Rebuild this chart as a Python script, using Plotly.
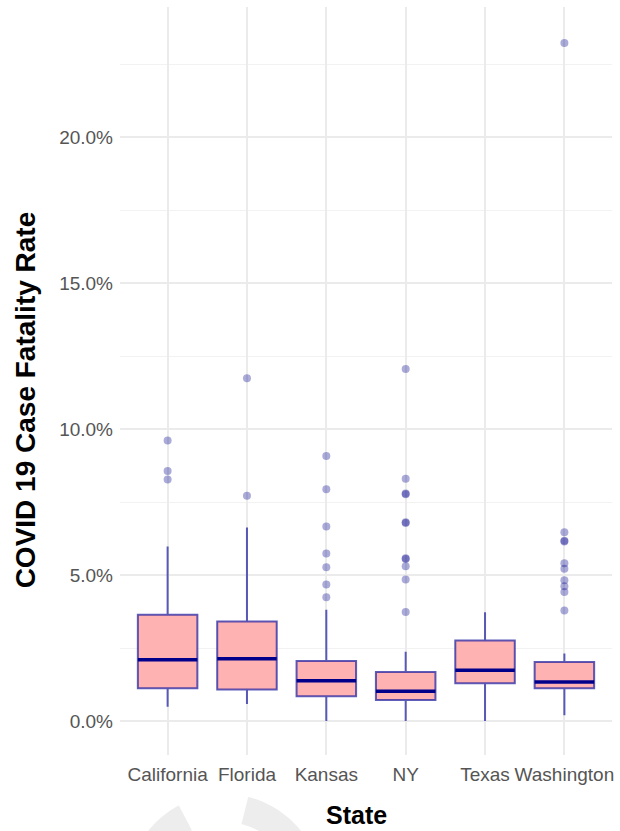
import numpy as np
import plotly.graph_objects as go

# Box-plot summary per state (case fatality rate, %)
states = ["California", "Florida", "Kansas", "NY", "Texas", "Washington"]
q1 = [1.12, 1.08, 0.85, 0.72, 1.29, 1.12]
median = [2.10, 2.13, 1.38, 1.02, 1.74, 1.34]
q3 = [3.64, 3.41, 2.06, 1.68, 2.76, 2.02]
lower_whisker = [0.49, 0.58, 0.00, 0.00, 0.00, 0.20]
upper_whisker = [5.98, 6.63, 3.81, 2.37, 3.73, 2.31]

# Outlying counties per state (%)
outliers_california = [9.61, 8.57, 8.28]
outliers_florida = [11.75, 7.72]
outliers_kansas = [9.08, 7.94, 6.67, 5.74, 5.27, 4.68, 4.24]
outliers_ny = [12.06, 8.30, 7.80, 7.77, 6.81, 6.79, 5.58, 5.55, 5.30, 4.85, 3.74]
outliers_texas = []
outliers_washington = [23.24, 6.47, 6.18, 6.15, 5.41, 5.22, 4.82, 4.62, 4.42, 3.79]
outliers = [outliers_california, outliers_florida, outliers_kansas,
            outliers_ny, outliers_texas, outliers_washington]

BOX_W = 0.75
xpos = list(range(len(states)))
pct = lambda v: [x / 100 for x in v]

# plot-area geometry in pixels, used to place titles and the ring mark
PLOT_L, PLOT_R, PLOT_T, PLOT_B = 120, 613.8, 7, 755
px_x = lambda x: (x - PLOT_L) / (PLOT_R - PLOT_L)
px_y = lambda y: (PLOT_B - y) / (PLOT_B - PLOT_T)

fig = go.Figure()

fig.add_trace(go.Box(
    x=xpos, q1=pct(q1), median=pct(median), q3=pct(q3),
    lowerfence=pct(lower_whisker), upperfence=pct(upper_whisker),
    width=BOX_W, whiskerwidth=0, boxpoints=False,
    fillcolor="#FFB2B2",
    line=dict(color="rgba(30,30,160,0.72)", width=2),
    hoverinfo="skip", showlegend=False,
))

# heavier median bars
for i, m in zip(xpos, median):
    fig.add_trace(go.Scatter(
        x=[i - BOX_W / 2, i + BOX_W / 2], y=[m / 100, m / 100],
        mode="lines", line=dict(color="#00008B", width=3.5),
        hoverinfo="skip", showlegend=False,
    ))

ox, oy = [], []
for i, pts in zip(xpos, outliers):
    ox += [i] * len(pts)
    oy += pct(pts)
fig.add_trace(go.Scatter(
    x=ox, y=oy, mode="markers",
    marker=dict(size=8, color="rgba(0,0,139,0.33)", line=dict(width=0)),
    hoverinfo="skip", showlegend=False,
))

# faint ring mark at the foot of the page
def ring_arc(a0, a1, cx=225, cy=892, r_in=70, r_out=98, n=40):
    t = np.radians(np.linspace(a0, a1, n))
    outer = [(cx + r_out * np.cos(a), cy - r_out * np.sin(a)) for a in t]
    inner = [(cx + r_in * np.cos(a), cy - r_in * np.sin(a)) for a in t[::-1]]
    cp = [(px_x(x), px_y(y)) for x, y in outer + inner]
    return "M " + " L ".join(f"{x:.4f},{y:.4f}" for x, y in cp) + " Z"

for a0, a1 in [(118, 180), (0, 76)]:
    fig.add_shape(type="path", path=ring_arc(a0, a1), xref="paper", yref="paper",
                  fillcolor="#EDEDED", line=dict(width=0), layer="below")

fig.update_layout(
    width=620, height=831,
    margin=dict(l=PLOT_L, r=620 - PLOT_R, t=PLOT_T, b=831 - PLOT_B),
    paper_bgcolor="white", plot_bgcolor="white",
    font=dict(family="Liberation Sans, Arial, sans-serif", color="#4D4D4D", size=19),
)
fig.update_xaxes(
    range=[-0.6, 5.6], tickvals=xpos, ticktext=states,
    showgrid=True, gridcolor="#EBEBEB", gridwidth=1.5,
    zeroline=False, showline=False, ticks="", ticklabelstandoff=6,
    tickfont=dict(size=19, color="#555555"),
)
fig.update_yaxes(
    range=[-0.01165, 0.2447], tickvals=[0, 0.05, 0.10, 0.15, 0.20],
    tickformat=".1%",
    showgrid=True, gridcolor="#EBEBEB", gridwidth=1.5,
    minor=dict(tickvals=[0.025, 0.075, 0.125, 0.175, 0.225], showgrid=True,
               gridcolor="#F2F2F2", gridwidth=1),
    zeroline=False, showline=False, ticks="", ticklabelstandoff=6,
    tickfont=dict(size=19, color="#555555"),
)

# axis titles
fig.add_annotation(text="State", xref="paper", yref="paper",
                   x=px_x(357), y=px_y(815), xanchor="center", yanchor="middle",
                   showarrow=False,
                   font=dict(size=25, color="black", weight="bold"))
fig.add_annotation(text="COVID 19 Case Fatality Rate", textangle=-90,
                   xref="paper", yref="paper",
                   x=px_x(25), y=px_y(400), xanchor="center", yanchor="middle",
                   showarrow=False,
                   font=dict(size=28, color="black", weight="bold"))

fig.write_html("out.html")
